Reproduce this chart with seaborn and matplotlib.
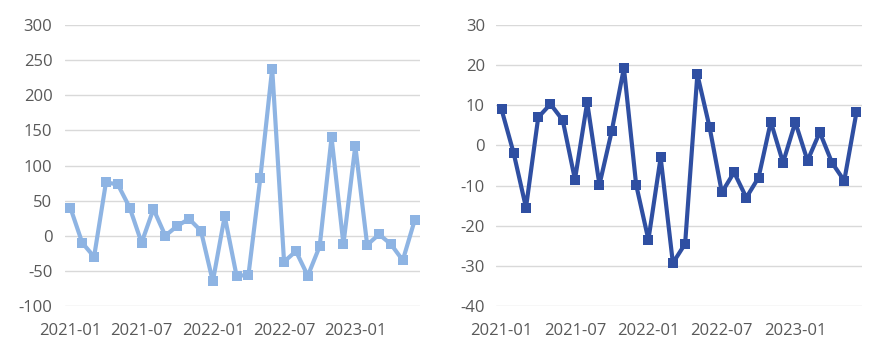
import matplotlib
matplotlib.use("Agg")
import matplotlib.pyplot as plt
import seaborn as sns
import numpy as np
import pandas as pd

months = pd.date_range("2021-01", periods=30, freq="MS").strftime("%Y-%m").tolist()
left_values = [40, -10, -30, 76, 73, 40, -10, 38, 0, 14, 24, 7, -65, 28, -57, -56,
               82, 238, -37, -22, -57, -15, 140, -12, 128, -13, 2, -12, -35, 22]
right_values = [9, -2, -15.5, 7, 10.3, 6.3, -8.5, 10.7, -9.8, 3.5, 19.3, -9.8, -23.5, -3,
                -29.3, -24.5, 17.7, 4.5, -11.7, -6.7, -13, -8, 5.9, -4.3, 5.8, -3.8, 3.3,
                -4.3, -8.8, 8.3]
tick_labels = ["2021-01", "2021-07", "2022-01", "2022-07", "2023-01"]
left_yticks = [-100, -50, 0, 50, 100, 150, 200, 250, 300]
right_yticks = [-40, -30, -20, -10, 0, 10, 20, 30]

sns.set_theme(style="white")
plt.rcParams['font.family'] = ['Open Sans', 'DejaVu Sans']
plt.rcParams['axes.unicode_minus'] = False

W, H = 886, 361
fig = plt.figure(figsize=(W / 100, H / 100), dpi=100)

def make_ax(x0, x1, y0, y1):
    return fig.add_axes([x0 / W, 1 - y1 / H, (x1 - x0) / W, (y1 - y0) / H])

ax1 = make_ax(65, 420, 25, 306)
ax2 = make_ax(496, 862, 25, 306)

idx = np.arange(len(months))
df = pd.DataFrame({"i": idx, "month": months, "left": left_values, "right": right_values})

text_color = "#595959"
for ax, col, color, yticks, pad in [
    (ax1, "left", "#8EB4E3", left_yticks, 9),
    (ax2, "right", "#2F4FA2", right_yticks, 8),
]:
    sns.lineplot(data=df, x="i", y=col, ax=ax, color=color, linewidth=3.0,
                 marker="s", markersize=7, markeredgewidth=0, markerfacecolor=color)
    ax.set_ylim(yticks[0], yticks[-1])
    ax.set_yticks(yticks)
    ax.set_xlim(-0.45, len(months) - 0.55)
    tick_pos = [months.index(t) for t in tick_labels]
    ax.set_xticks(tick_pos)
    ax.set_xticklabels(tick_labels)
    ax.set_xlabel("")
    ax.set_ylabel("")
    ax.grid(axis="y", color="#D9D9D9", linewidth=1)
    ax.grid(axis="x", visible=False)
    ax.set_axisbelow(True)
    for s in ax.spines.values():
        s.set_visible(False)
    ax.tick_params(axis="y", length=0, pad=pad, labelsize=12, labelcolor=text_color)
    ax.tick_params(axis="x", length=0, pad=12, labelsize=12, labelcolor=text_color)

fig.savefig("out.png", dpi=100)
